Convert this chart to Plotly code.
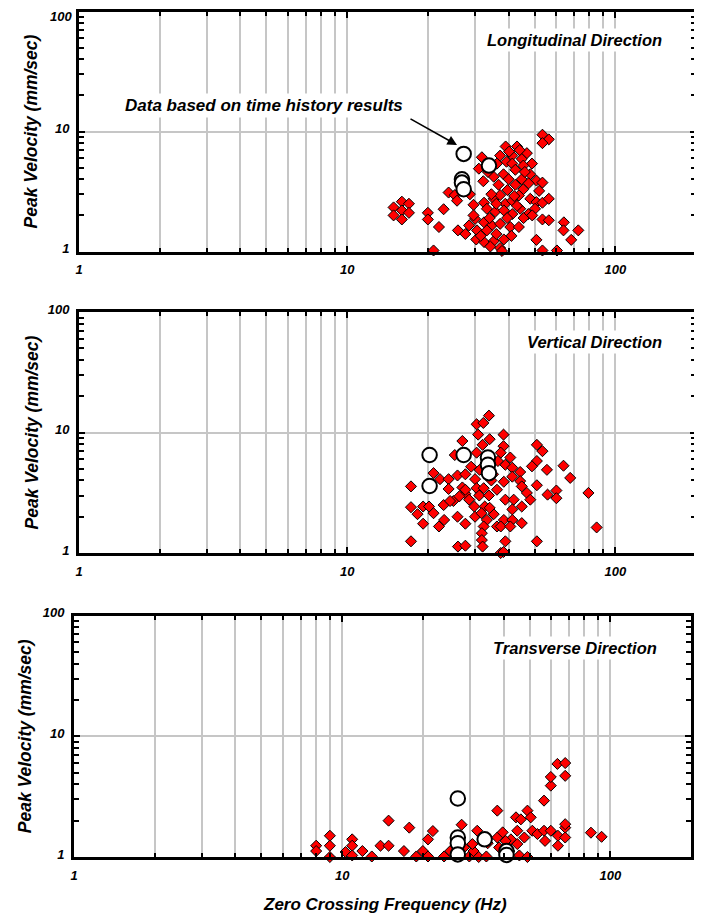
import plotly.graph_objects as go
import math

# ---------------- data ----------------
# Longitudinal direction (zero crossing frequency Hz, peak velocity mm/s)
long_freq = [16.0, 14.9, 17.0, 16.0, 14.9, 17.0, 16.0,
             20.0, 20.0, 22.9, 22.0, 21.0,
             31.8, 39.0, 43.0, 46.8, 53.5, 56.5, 53.5, 37.2, 41.3, 44.8, 48.9, 39.3, 41.3, 45.4,
             31.0, 36.2, 38.3, 42.4, 48.2, 50.8, 53.5, 32.2, 35.2, 44.8, 36.7, 39.6, 42.4, 45.4,
             23.9, 25.2, 25.7, 28.7, 29.6, 32.4, 35.2, 37.2, 38.9, 41.3, 43.7, 48.2, 50.8, 53.5,
             56.5, 33.2, 35.7, 38.4, 41.3, 44.2, 47.4, 50.2, 53.5, 56.5, 30.0, 29.6, 32.4, 34.6,
             37.2, 40.6, 43.7, 25.9, 27.6, 30.5, 33.2, 30.3, 32.4, 35.2, 38.4, 34.2, 37.2, 37.8,
             50.8, 53.5, 60.6, 64.3, 64.1, 72.8, 68.5,
             34.5, 40.0, 46.0, 47.5, 36.0, 42.0, 39.5, 45.5, 31.5, 28.5, 34.0, 41.0, 43.0, 49.0,
             52.0, 36.0, 40.2, 44.0, 33.5]
long_vel = [2.6, 2.33, 2.5, 2.2, 2.0, 2.1, 1.85,
            2.1, 1.85, 2.25, 1.6, 1.02,
            6.1, 7.5, 7.5, 6.6, 9.4, 8.6, 8.0, 6.3, 6.3, 5.9, 5.4, 5.6, 5.4, 5.2,
            4.9, 5.4, 4.4, 4.8, 4.4, 3.9, 3.75, 3.85, 4.2, 4.0, 3.6, 3.25, 3.6, 3.3,
            3.1, 2.95, 2.65, 3.0, 2.45, 2.55, 2.75, 2.95, 2.5, 2.65, 2.93, 2.75, 2.58, 2.55,
            2.75, 2.27, 2.15, 2.2, 2.05, 2.27, 2.05, 2.27, 1.85, 1.82, 1.87, 2.0, 1.75, 1.65,
            1.7, 1.6, 1.6, 1.5, 1.4, 1.5, 1.5, 1.26, 1.2, 1.22, 1.26, 1.1, 1.07, 1.01,
            1.25, 1.02, 1.02, 1.75, 1.5, 1.5, 1.25,
            3.0, 4.0, 4.6, 3.7, 2.5, 2.9, 1.9, 1.9, 1.35, 1.65, 1.9, 1.35, 2.4, 2.0,
            3.2, 1.4, 6.8, 7.0, 4.6]
long_th_freq = [27.2, 33.8, 26.8, 26.8, 27.2]
long_th_vel = [6.5, 5.2, 4.0, 3.75, 3.3]

# Vertical direction
vert_freq = [17.3, 17.3, 18.3, 19.2, 19.2, 17.3, 21.0, 22.2, 20.2, 21.0, 22.0, 23.0, 22.9,
             23.9, 23.9, 24.9, 25.8, 25.8, 25.9, 27.6, 26.9, 25.2, 26.9, 27.6, 27.6, 27.6,
             30.0, 29.8, 30.0, 30.4, 32.2, 33.8, 30.8, 34.0, 32.0, 30.4, 31.2, 30.4, 32.3,
             31.1, 32.6, 31.7, 33.2, 32.3, 31.8, 31.8, 32.0, 33.8, 35.2, 36.2, 38.3, 38.3,
             37.4, 40.6, 38.9, 41.3, 38.4, 41.3, 44.2, 44.2, 46.8, 44.8, 38.9, 41.8, 44.8,
             41.3, 38.4, 41.3, 44.8, 37.4, 40.6, 38.9, 37.4, 38.3, 51.0, 53.5, 51.0, 48.9,
             55.6, 51.0, 55.9, 60.3, 60.3, 48.2, 51.0, 64.1, 67.9, 24.2, 28.5, 26.2, 36.2,
             34.0, 27.6, 79.4, 85.2, 35.0, 36.5, 29.0, 34.5]
vert_vel = [3.57, 2.4, 2.1, 2.43, 1.75, 1.25, 4.6, 4.1, 2.43, 2.14, 1.66, 1.88, 2.5,
            4.1, 3.4, 2.7, 4.4, 2.0, 1.13, 1.15, 8.5, 6.5, 3.5, 4.5, 3.1, 1.75,
            4.1, 2.43, 2.0, 11.7, 12.0, 13.8, 9.6, 8.8, 7.9, 6.8, 4.9, 3.45, 3.45,
            3.0, 2.43, 2.14, 1.88, 1.66, 1.46, 1.28, 1.13, 3.0, 2.1, 1.66, 9.6, 7.7,
            6.8, 6.2, 5.4, 5.1, 3.9, 4.3, 4.7, 3.95, 3.15, 3.57, 2.77, 2.77, 2.43,
            2.3, 1.88, 1.88, 1.77, 1.66, 1.66, 1.25, 1.0, 1.02, 7.9, 7.0, 5.8, 5.24,
            4.9, 3.65, 3.05, 3.3, 2.85, 2.77, 1.25, 5.3, 4.2, 2.7, 2.77, 2.95, 3.35,
            2.37, 3.35, 3.15, 1.63, 4.5, 5.8, 5.2, 4.0]
vert_th_freq = [20.3, 20.3, 27.2, 33.5, 33.5, 33.8]
vert_th_vel = [6.5, 3.6, 6.5, 6.2, 5.4, 4.6]

# Transverse direction
trans_freq = [8.0, 8.0, 9.0, 9.0, 9.0, 10.3, 10.9, 10.9, 10.9, 11.9, 12.9, 13.9, 14.9, 14.9,
              17.0, 17.8, 18.9, 20.0, 20.9, 20.9, 21.8, 24.0, 25.3, 27.9, 28.5, 29.8, 30.9,
              31.9, 30.6, 32.3, 34.5, 34.9, 37.9, 37.9, 38.5, 39.7, 42.6, 44.5, 46.4, 49.1,
              50.5, 45.0, 47.8, 45.0, 45.8, 49.1, 51.2, 53.5, 56.6, 57.1, 60.0, 60.0, 60.0,
              56.6, 63.5, 67.9, 67.9, 63.8, 63.8, 67.9, 67.9, 40.7, 42.0, 84.7, 92.8, 67.9]
trans_vel = [1.24, 1.12, 1.5, 1.24, 1.0, 1.1, 1.4, 1.24, 1.03, 1.12, 1.01, 1.24, 1.24, 2.0,
             1.12, 1.75, 1.01, 1.12, 1.4, 1.01, 1.64, 1.01, 1.12, 1.85, 1.2, 1.01, 1.12,
             1.65, 1.28, 1.0, 1.01, 1.3, 2.42, 1.45, 1.2, 1.6, 1.4, 2.13, 2.05, 2.42,
             2.13, 1.65, 1.45, 1.28, 1.03, 1.0, 1.65, 1.55, 1.65, 1.36, 1.65, 3.9, 4.6,
             2.93, 5.9, 6.0, 4.7, 1.5, 1.24, 1.75, 1.45, 1.36, 1.12, 1.59, 1.47, 1.87]
trans_th_freq = [27.0, 27.0, 27.0, 27.0, 34.0, 41.0, 41.0]
trans_th_vel = [3.05, 1.45, 1.3, 1.05, 1.4, 1.12, 1.04]

direction_labels = ["Longitudinal Direction", "Vertical Direction", "Transverse Direction"]
x_tick_vals = [1, 10, 100]
x_tick_text = ["1", "10", "100"]
y_tick_vals = [1, 10, 100]
y_tick_text = ["1", "10", "100"]
minor_vals = [2, 3, 4, 5, 6, 7, 8, 9, 20, 30, 40, 50, 60, 70, 80, 90]

# ---------------- layout geometry (window pixels) ----------------
WIN_W, WIN_H = 702, 917
OFF = 8                      # default page body margin
W, H = WIN_W - OFF, WIN_H - OFF
def px(x):
    return (x - OFF) / W
def py(y):
    return 1 - (y - OFF) / H

panels = [
    dict(x0=79, x1=696, y0=11.5, y1=251.5, lab_x=665, lab_y=40, yt_x=31),
    dict(x0=79, x1=696, y0=312, y1=553, lab_x=665, lab_y=342, yt_x=31),
    dict(x0=74, x1=691, y0=615.5, y1=857, lab_x=660, lab_y=648, yt_x=25),
]

FONT = "Liberation Sans, Arial, sans-serif"
tickfont = dict(family=FONT, size=13, color="black", weight="bold", style="italic")
GRID = "#c6c6c6"
XRANGE = [0, math.log10(200)]
YRANGE = [0, 2]

data_sets = [
    (long_freq, long_vel, long_th_freq, long_th_vel),
    (vert_freq, vert_vel, vert_th_freq, vert_th_vel),
    (trans_freq, trans_vel, trans_th_freq, trans_th_vel),
]

fig = go.Figure()
annotations = []
for i, (p, (df, dv, cf, cv)) in enumerate(zip(panels, data_sets)):
    sfx = "" if i == 0 else str(i + 1)
    mx = str(i + 4)  # mirror axes ids
    fig.add_trace(go.Scatter(
        x=df, y=dv, mode="markers", xaxis="x" + sfx, yaxis="y" + sfx,
        marker=dict(symbol="diamond", size=8.5, color="#ff0000",
                    line=dict(color="black", width=1)),
        cliponaxis=False, showlegend=False, hoverinfo="x+y"))
    fig.add_trace(go.Scatter(
        x=cf, y=cv, mode="markers", xaxis="x" + sfx, yaxis="y" + sfx,
        marker=dict(symbol="circle", size=14.5, color="white",
                    line=dict(color="black", width=2)),
        cliponaxis=False, showlegend=False, hoverinfo="x+y"))

    # the top panel's "100" label sits at the page edge: drawn as an annotation below
    ytext = list(y_tick_text)
    if i == 0:
        ytext[-1] = ""

    xdom = [px(p["x0"]), px(p["x1"])]
    ydom = [py(p["y1"]), py(p["y0"])]
    xa = dict(type="log", range=XRANGE, domain=xdom, automargin=False,
              anchor="y" + sfx, showline=True, linewidth=3, linecolor="black",
              ticks="inside", ticklen=6, tickwidth=2, tickcolor="black",
              tickmode="array", tickvals=x_tick_vals, ticktext=x_tick_text,
              tickfont=tickfont, showgrid=True, gridcolor=GRID, gridwidth=2,
              zeroline=False, ticklabelstandoff=4, ticklabeloverflow="allow",
              minor=dict(tickmode="array", tickvals=minor_vals, ticks="inside", ticklen=4,
                         tickwidth=2, tickcolor="black", showgrid=True,
                         gridcolor=GRID, gridwidth=2))
    ya = dict(type="log", range=YRANGE, domain=ydom, automargin=False,
              anchor="x" + sfx, showline=True, linewidth=3, linecolor="black",
              ticks="inside", ticklen=6, tickwidth=2, tickcolor="black",
              tickmode="array", tickvals=y_tick_vals, ticktext=ytext,
              tickfont=tickfont, showgrid=True, gridcolor=GRID, gridwidth=2,
              zeroline=False, ticklabelstandoff=4, ticklabeloverflow="allow",
              ticklabelshift=-3,
              minor=dict(tickmode="array", tickvals=minor_vals, ticks="inside", ticklen=5,
                         tickwidth=2, tickcolor="black", showgrid=False))
    xt = dict(type="log", range=XRANGE, domain=xdom, automargin=False,
              overlaying="x" + sfx, anchor="y" + sfx, side="top",
              showline=True, linewidth=3, linecolor="black",
              ticks="inside", ticklen=6, tickwidth=2, tickcolor="black",
              tickmode="array", tickvals=x_tick_vals, showticklabels=False,
              showgrid=False, zeroline=False,
              minor=dict(tickmode="array", tickvals=minor_vals, ticks="inside", ticklen=4,
                         tickwidth=2, tickcolor="black", showgrid=False))
    yr = dict(type="log", range=YRANGE, domain=ydom, automargin=False,
              overlaying="y" + sfx, anchor="x" + sfx, side="right",
              showline=True, linewidth=3, linecolor="black",
              ticks="inside", ticklen=6, tickwidth=2, tickcolor="black",
              tickmode="array", tickvals=y_tick_vals, showticklabels=False,
              showgrid=False, zeroline=False,
              minor=dict(tickmode="array", tickvals=minor_vals, ticks="inside", ticklen=5,
                         tickwidth=2, tickcolor="black", showgrid=False))
    fig.update_layout(**{"xaxis" + sfx: xa, "yaxis" + sfx: ya,
                         "xaxis" + mx: xt, "yaxis" + mx: yr})
    fig.add_trace(go.Scatter(x=[1], y=[1], xaxis="x" + mx, yaxis="y" + mx,
                             mode="markers", marker=dict(opacity=0), showlegend=False,
                             hoverinfo="skip"))

    annotations.append(dict(
        xref="paper", yref="paper", x=px(p["lab_x"]), y=py(p["lab_y"]),
        xanchor="right", yanchor="middle", showarrow=False,
        text=direction_labels[i], bgcolor="white", borderpad=2,
        font=dict(family=FONT, size=16.5, color="black", weight="bold", style="italic")))
    annotations.append(dict(
        xref="paper", yref="paper", x=px(p["yt_x"]), y=py((p["y0"] + p["y1"]) / 2),
        xanchor="center", yanchor="middle", showarrow=False, textangle=-90,
        text="Peak Velocity (mm/sec)",
        font=dict(family=FONT, size=17.5, color="black", weight="bold", style="italic")))

annotations.append(dict(
    xref="paper", yref="paper", x=px(73), y=py(8.5), xanchor="right", yanchor="top",
    showarrow=False, text=y_tick_text[-1], borderpad=0,
    font=dict(family=FONT, size=13, color="black", weight="bold", style="italic")))
annotations.append(dict(
    xref="paper", yref="paper", x=px(263.5), y=py(105), xanchor="center", yanchor="middle",
    showarrow=False, text="Data based on time history results", bgcolor="white", borderpad=2,
    font=dict(family=FONT, size=17, color="black", weight="bold", style="italic")))
annotations.append(dict(
    xref="paper", yref="paper", x=px(457), y=py(145), text="", showarrow=True,
    ax=-48, ay=-27, arrowhead=2, arrowsize=1.2, arrowwidth=1.6, arrowcolor="black",
    standoff=0, startstandoff=0))
annotations.append(dict(
    xref="paper", yref="paper", x=px(385), y=py(904), xanchor="center", yanchor="middle",
    showarrow=False, text="Zero Crossing Frequency (Hz)",
    font=dict(family=FONT, size=17, color="black", weight="bold", style="italic")))

fig.update_layout(
    template="none",
    width=W, height=H, margin=dict(l=0, r=0, t=0, b=0, pad=0, autoexpand=False),
    paper_bgcolor="white", plot_bgcolor="white",
    annotations=annotations, showlegend=False)

fig.write_html("out.html")
